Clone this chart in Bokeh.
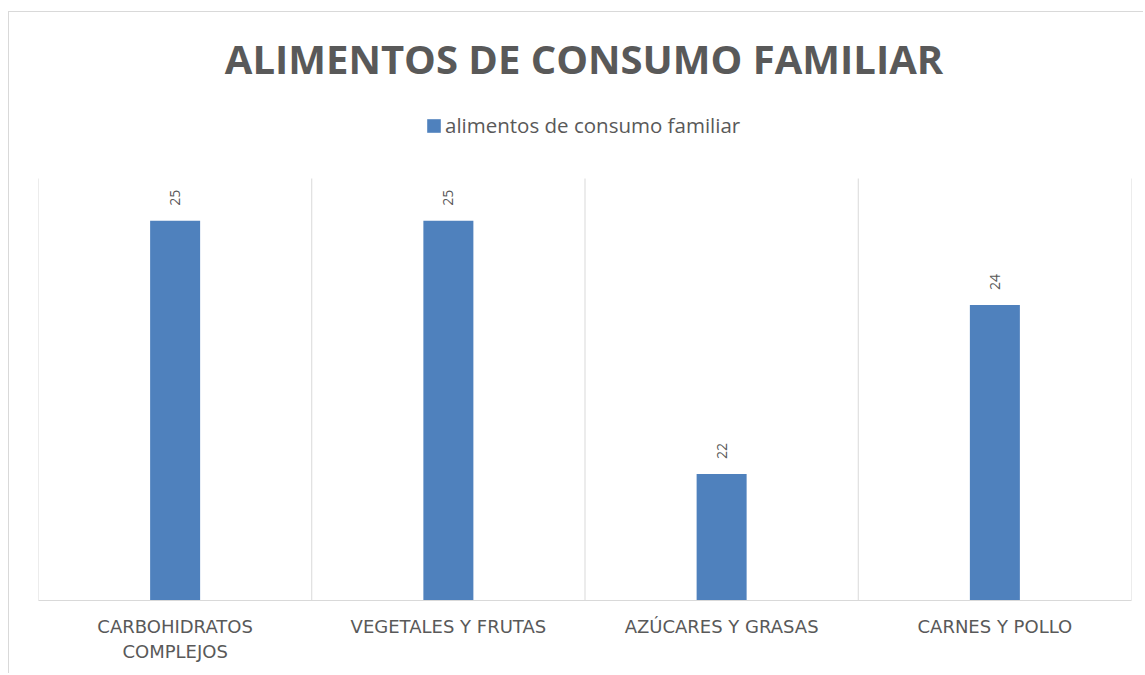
import numpy as np
from bokeh.plotting import figure
from bokeh.models import FactorRange, Range1d, Label, Legend, LegendItem, ColumnDataSource
from bokeh.core.properties import value
from bokeh.embed import file_html
from bokeh.resources import INLINE

# ---- data ----
categories = ["CARBOHIDRATOS\nCOMPLEJOS", "VEGETALES Y FRUTAS", "AZÚCARES Y GRASAS", "CARNES Y POLLO"]
values = [25, 25, 22, 24]
value_labels = ["25", "25", "22", "24"]
series_name = "alimentos de consumo familiar"
title_text = "ALIMENTOS DE CONSUMO FAMILIAR"
y_start, y_end = 20.5, 25.5

# ---- style / layout ----
BAR = "#4f81bd"
TXT = "#595959"
GRID = "#d9d9d9"
FONT = "Open Sans"
AXIS_FONT = "DejaVu Sans"

W, H = 1135, 662
PLOT_TOP_PX = 166          # space above plot area (title + legend) inside frame
PLOT_H_PX = 422            # height of the value area
y_view_top = y_end + (y_end - y_start) * PLOT_TOP_PX / PLOT_H_PX

src = ColumnDataSource(dict(cat=categories, val=values, lab=value_labels))

p = figure(width=W, height=H,
           x_range=FactorRange(*categories, range_padding=0),
           y_range=Range1d(y_start, y_view_top),
           output_backend="svg", toolbar_location=None,
           y_axis_location=None, title_location=None,
           min_border_left=29, min_border_right=13,
           min_border_top=0, min_border_bottom=74,
           background_fill_color="white", border_fill_color="white",
           styles={"border-top": "1px solid #d9d9d9",
                   "border-left": "1px solid #d9d9d9",
                   "margin-top": "11px", "margin-left": "8px"})
p.outline_line_color = None
p.xgrid.visible = False
p.ygrid.visible = False

# category separators (vertical gridlines) in synthetic categorical coordinates
bounds = [float(i) for i in range(len(categories) + 1)]
p.segment(x0=bounds, x1=bounds, y0=[y_start] * len(bounds), y1=[y_end] * len(bounds),
          line_color=GRID, line_width=1)

bars = p.vbar(x="cat", top="val", bottom=y_start, width=0.183,
              source=src, fill_color=BAR, line_color=None)

p.text(x="cat", y="val", text="lab", source=src,
       angle=np.pi / 2, x_offset=0, y_offset=-15,
       text_align="left", text_baseline="middle",
       text_font=value(FONT), text_font_size="14px", text_color=TXT)

ax = p.xaxis[0]
ax.axis_line_color = GRID
ax.axis_line_width = 1
ax.major_tick_line_color = None
ax.minor_tick_line_color = None
ax.major_label_standoff = 9
ax.major_label_text_font = AXIS_FONT
ax.major_label_text_font_size = "18px"
ax.major_label_text_color = TXT
ax.major_label_text_line_height = 1.22

p.add_layout(Label(x=545.5, y=542, x_units="screen", y_units="screen",
                   text=title_text, text_align="center",
                   text_baseline="alphabetic", text_font=FONT,
                   text_font_style="bold", text_font_size="40px",
                   text_color=TXT))

legend = Legend(items=[LegendItem(label=series_name, renderers=[bars])],
                location=(387, 461), orientation="horizontal",
                padding=0, margin=0, border_line_color=None,
                background_fill_alpha=0, glyph_width=17, glyph_height=17,
                label_height=17, label_standoff=3,
                label_text_font=FONT, label_text_font_size="20.5px",
                label_text_color=TXT, label_text_baseline="middle")
p.add_layout(legend)

open("out.html", "w").write(file_html(p, INLINE))
